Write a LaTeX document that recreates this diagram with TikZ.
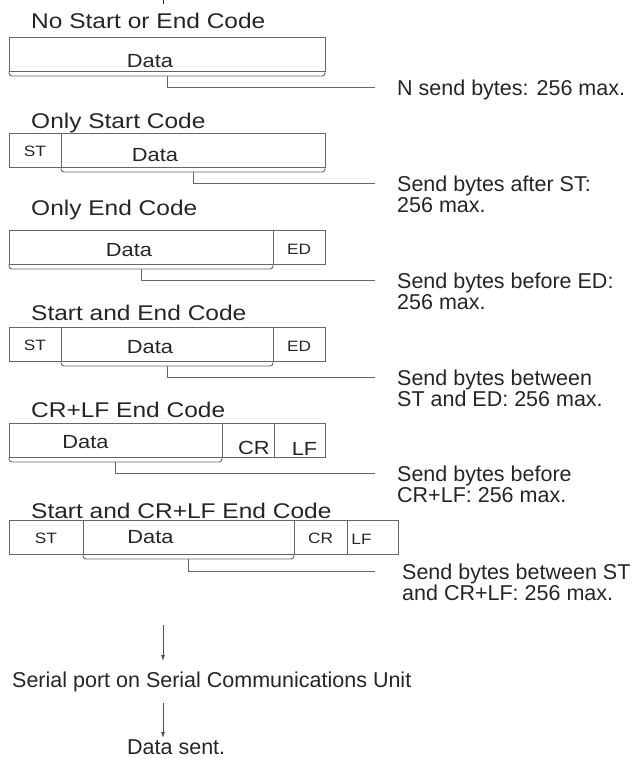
\documentclass[tikz,border=0pt]{standalone}
\usepackage{fontspec}
\setmainfont{Liberation Sans}
\newfontfamily\widefont[FakeStretch=1.15]{Liberation Sans}
\usetikzlibrary{positioning,arrows.meta}
\definecolor{inkgray}{HTML}{252525}
\definecolor{linegray}{HTML}{666666}

\begin{document}
\begin{tikzpicture}[x=1pt,y=1pt]
  % frame formats, one row per format
  \tikzset{cell/.style={draw=linegray,line width=0.9pt,minimum height=34pt,inner sep=0pt,outer sep=0pt,
      text=inkgray,font=\widefont\fontsize{19}{19}\selectfont},
    code/.style={cell,text height=14pt,font=\widefont\fontsize{15}{15}\selectfont},
    title/.style={anchor=base west,inner sep=0pt,text=inkgray,font=\widefont\fontsize{21.3}{22}\selectfont},
    note/.style={anchor=north west,inner sep=0pt,align=left,text=inkgray,font=\fontsize{21.5}{21}\selectfont},
    lead/.style={draw=linegray,line width=0.9pt},
    bracket/.style={lead,rounded corners=3pt},
    flow/.style={draw=inkgray!80,line width=0.8pt,-{Latex[length=6pt,width=4pt]}},
    lft/.style={execute at end node={\hspace*{#1}}},
    rgt/.style={execute at begin node={\hspace*{#1}}},
    low/.style={text height=#1}}
  \useasboundingbox (0,0) rectangle (638,-758);

  \coordinate (tp) at (163,0);
  \coordinate (tpe) at (163,-4);
  \draw[lead,draw=inkgray] (tp) -- (tpe);

  % no start or end code
  \node[title] (h1) at (31,-28) {No Start or End Code};
  \node[cell,minimum width=316pt,anchor=north west,lft=34pt,low=27pt] (d1) at (9,-37) {Data};
  \coordinate (e1) at (375,-87);
  \draw[bracket] (d1.south west) -- ++(0,-5) -- ([yshift=-5pt]d1.south east) -- (d1.south east);
  \draw[lead] ([yshift=-5pt]d1.south) |- (e1);
  \node[note] (n1) at ([xshift=22pt,yshift=7pt]e1) {N send bytes: 256 max.};

  % only start code
  \node[title] (h2) at (31,-128) {Only Start Code};
  \node[code,minimum width=52pt,anchor=north west] (st2) at (9,-133) {ST};
  \node[cell,minimum width=264pt,right=0pt of st2,lft=76pt,low=24pt] (d2) {Data};
  \coordinate (e2) at (375,-183);
  \draw[bracket] (d2.south west) -- ++(0,-5) -- ([yshift=-5pt]d2.south east) -- (d2.south east);
  \draw[lead] ([yshift=-5pt]d2.south) |- (e2);
  \node[note] (n2) at ([xshift=22pt,yshift=7pt]e2) {Send bytes after ST:\\256 max.};

  % only end code
  \node[title] (h3) at (31,-215) {Only End Code};
  \node[cell,minimum width=264pt,anchor=north west,lft=24pt,low=20pt] (d3) at (9,-230) {Data};
  \node[code,minimum width=52pt,right=0pt of d3] (ed3) {ED};
  \coordinate (e3) at (375,-280);
  \draw[bracket] (d3.south west) -- ++(0,-5) -- ([yshift=-5pt]d3.south east) -- (d3.south east);
  \draw[lead] ([yshift=-5pt]d3.south) |- (e3);
  \node[note] (n3) at ([xshift=22pt,yshift=7pt]e3) {Send bytes before ED:\\256 max.};

  % start and end code
  \node[title] (h4) at (31,-320) {Start and End Code};
  \node[code,minimum width=52pt,anchor=north west] (st4) at (9,-327) {ST};
  \node[cell,minimum width=212pt,right=0pt of st4,lft=34pt,low=19pt] (d4) {Data};
  \node[code,minimum width=52pt,right=0pt of d4] (ed4) {ED};
  \coordinate (e4) at (375,-377);
  \draw[bracket] (d4.south west) -- ++(0,-5) -- ([yshift=-5pt]d4.south east) -- (d4.south east);
  \draw[lead] ([yshift=-5pt]d4.south) |- (e4);
  \node[note] (n4) at ([xshift=22pt,yshift=7pt]e4) {Send bytes between\\ST and ED: 256 max.};

  % CR+LF end code
  \node[title] (h5) at (31,-417) {CR+LF End Code};
  \node[cell,minimum width=213pt,anchor=north west,lft=60pt,low=18pt] (d5) at (9,-423) {Data};
  \node[cell,minimum width=52pt,right=0pt of d5,rgt=12pt,low=30pt] (cr5) {CR};
  \node[cell,minimum width=51pt,right=0pt of cr5,rgt=10pt,low=30pt] (lf5) {LF};
  \coordinate (e5) at (375,-473);
  \draw[bracket] (d5.south west) -- ++(0,-5) -- ([yshift=-5pt]d5.south east) -- (d5.south east);
  \draw[lead] ([yshift=-5pt]d5.south) |- (e5);
  \node[note] (n5) at ([xshift=22pt,yshift=7pt]e5) {Send bytes before\\CR+LF: 256 max.};

  % start and CR+LF end code
  \node[title] (h6) at (31,-518) {Start and CR+LF End Code};
  \node[code,minimum width=74pt,anchor=north west] (st6) at (9,-520) {ST};
  \node[cell,minimum width=211pt,right=0pt of st6,lft=76pt] (d6) {Data};
  \node[code,minimum width=53pt,right=0pt of d6] (cr6) {CR};
  \node[code,minimum width=51pt,right=0pt of cr6,lft=22pt] (lf6) {LF};
  \coordinate (e6) at (375,-571);
  \draw[bracket] (d6.south west) -- ++(0,-5) -- ([yshift=-5pt]d6.south east) -- (d6.south east);
  \draw[lead] ([yshift=-5pt]d6.south) |- (e6);
  \node[note] (n6) at ([xshift=27pt,yshift=7pt]e6) {Send bytes between ST\\and CR+LF: 256 max.};

  % to the port and out
  \coordinate (a1) at (163,-625);
  \coordinate (a2) at (163,-661);
  \draw[flow] (a1) -- (a2);
  \node[note,anchor=base west] (ser) at (12,-687) {Serial port on Serial Communications Unit};
  \coordinate (a3) at (163,-703);
  \coordinate (a4) at (163,-738);
  \draw[flow] (a3) -- (a4);
  \node[note,anchor=base west] (snt) at (127,-754) {Data sent.};
\end{tikzpicture}
\end{document}
